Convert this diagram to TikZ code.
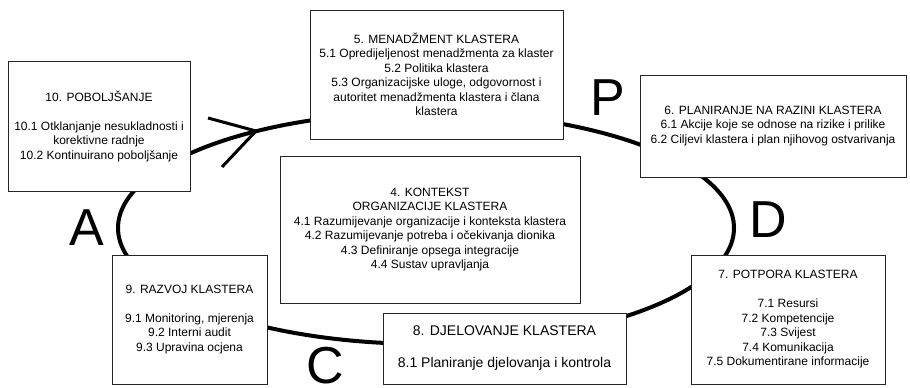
\documentclass[tikz,border=0pt]{standalone}
\usepackage{fontspec}
\setmainfont{Liberation Sans}
\begin{document}
\begin{tikzpicture}[x=1pt,y=-1pt,
  box/.style={draw=black!85,line width=0.8pt,fill=white,align=center,inner sep=2pt,
    font=\fontsize{12}{14.5}\selectfont},
  pdca/.style={anchor=base,inner sep=0pt,font=\fontsize{52}{52}\selectfont},
  ring/.style={line width=4pt}]
  \useasboundingbox (0,0) rectangle (910,388);

  % ring
  \path (426,228) coordinate (c);
  \draw[ring] (c) ellipse [x radius=308pt, y radius=116pt];
  \path (256,131) coordinate (tip);
  \draw[line width=3pt,line join=round] (tip) ++(-48,-13) -- (tip) -- ++(-34,36);

  % box 10
  \node[box,minimum width=182pt,minimum height=130pt] (b10) at (99,126)
    {10. POBOLJŠANJE\\[14.5pt]10.1 Otklanjanje nesukladnosti i\\korektivne radnje\\10.2 Kontinuirano poboljšanje};

  % box 5
  \node[box,minimum width=253pt,minimum height=129pt] (b5) at (436.5,74.5)
    {5. MENADŽMENT KLASTERA\\5.1 Opredijeljenost menadžmenta za klaster\\5.2 Politika klastera\\
     5.3 Organizacijske uloge, odgovornost i\\autoritet menadžmenta klastera i člana\\klastera};

  % box 6
  \node[box,minimum width=266pt,minimum height=102pt] (b6) at (773,126)
    {6. PLANIRANJE NA RAZINI KLASTERA\\6.1 Akcije koje se odnose na rizike i prilike\\6.2 Ciljevi klastera i plan njihovog ostvarivanja};

  % box 4
  \node[box,minimum width=300pt,minimum height=147pt] (b4) at (430,229.5)
    {4. KONTEKST\\ORGANIZACIJE KLASTERA\\4.1 Razumijevanje organizacije i konteksta klastera\\
     4.2 Razumijevanje potreba i očekivanja dionika\\4.3 Definiranje opsega integracije\\4.4 Sustav upravljanja};

  % box 9
  \node[box,minimum width=155pt,minimum height=129pt] (b9) at (189.5,319.5)
    {9. RAZVOJ KLASTERA\\[14.5pt]9.1 Monitoring, mjerenja\\9.2 Interni audit\\9.3 Upravina ocjena};

  % box 8
  \node[box,minimum width=243pt,minimum height=71pt,font=\fontsize{14}{16}\selectfont] (b8) at (504.5,348.5)
    {8. DJELOVANJE KLASTERA\\[16pt]8.1 Planiranje djelovanja i kontrola};

  % box 7
  \node[box,minimum width=194pt,minimum height=129pt] (b7) at (788,319.5)
    {7. POTPORA KLASTERA\\[14.5pt]7.1 Resursi\\7.2 Kompetencije\\7.3 Svijest\\7.4 Komunikacija\\7.5 Dokumentirane informacije};

  % letters
  \node[pdca] (lP) at (608,115) {P};
  \node[pdca] (lA) at (87,245) {A};
  \node[pdca] (lD) at (768,237) {D};
  \node[pdca] (lC) at (325,383) {C};
\end{tikzpicture}
\end{document}
